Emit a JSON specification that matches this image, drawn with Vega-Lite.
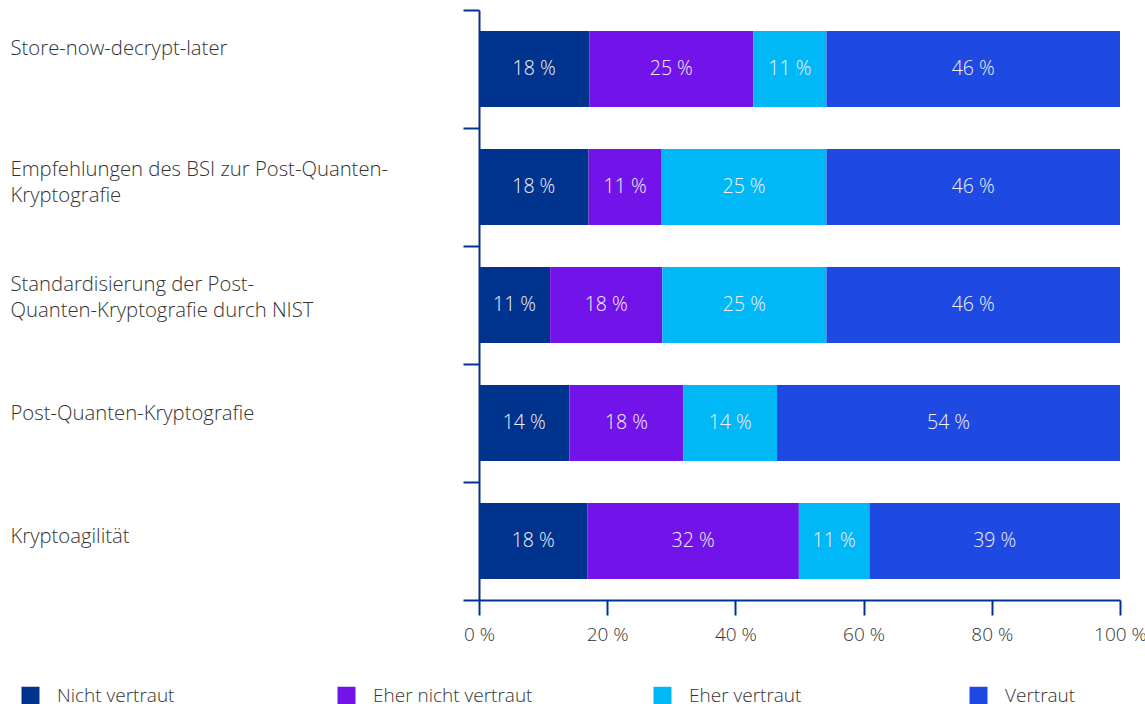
{
  "$schema": "https://vega.github.io/schema/vega-lite/v6.json",
  "width": 641,
  "height": 590,
  "autosize": {"type": "none"},
  "padding": {"left": 479, "top": 10, "right": 25, "bottom": 104},
  "background": "white",
  "config": {
    "view": {"stroke": null},
    "font": "Open Sans",
    "axis": {"labelFont": "Open Sans", "labelFontWeight": 300}
  },
  "data": {
    "values": [
      {"item": "Store-now-decrypt-later", "group": "Nicht vertraut", "rank": 1, "value": 17.2, "label": "18 %"},
      {"item": "Store-now-decrypt-later", "group": "Eher nicht vertraut", "rank": 2, "value": 25.6, "label": "25 %"},
      {"item": "Store-now-decrypt-later", "group": "Eher vertraut", "rank": 3, "value": 11.4, "label": "11 %"},
      {"item": "Store-now-decrypt-later", "group": "Vertraut", "rank": 4, "value": 45.8, "label": "46 %"},
      {"item": "Empfehlungen des BSI zur Post-Quanten-Kryptografie", "group": "Nicht vertraut", "rank": 1, "value": 17.1, "label": "18 %"},
      {"item": "Empfehlungen des BSI zur Post-Quanten-Kryptografie", "group": "Eher nicht vertraut", "rank": 2, "value": 11.4, "label": "11 %"},
      {"item": "Empfehlungen des BSI zur Post-Quanten-Kryptografie", "group": "Eher vertraut", "rank": 3, "value": 25.7, "label": "25 %"},
      {"item": "Empfehlungen des BSI zur Post-Quanten-Kryptografie", "group": "Vertraut", "rank": 4, "value": 45.8, "label": "46 %"},
      {"item": "Standardisierung der Post-Quanten-Kryptografie durch NIST", "group": "Nicht vertraut", "rank": 1, "value": 11.1, "label": "11 %"},
      {"item": "Standardisierung der Post-Quanten-Kryptografie durch NIST", "group": "Eher nicht vertraut", "rank": 2, "value": 17.5, "label": "18 %"},
      {"item": "Standardisierung der Post-Quanten-Kryptografie durch NIST", "group": "Eher vertraut", "rank": 3, "value": 25.6, "label": "25 %"},
      {"item": "Standardisierung der Post-Quanten-Kryptografie durch NIST", "group": "Vertraut", "rank": 4, "value": 45.8, "label": "46 %"},
      {"item": "Post-Quanten-Kryptografie", "group": "Nicht vertraut", "rank": 1, "value": 14.1, "label": "14 %"},
      {"item": "Post-Quanten-Kryptografie", "group": "Eher nicht vertraut", "rank": 2, "value": 17.8, "label": "18 %"},
      {"item": "Post-Quanten-Kryptografie", "group": "Eher vertraut", "rank": 3, "value": 14.6, "label": "14 %"},
      {"item": "Post-Quanten-Kryptografie", "group": "Vertraut", "rank": 4, "value": 53.5, "label": "54 %"},
      {"item": "Kryptoagilität", "group": "Nicht vertraut", "rank": 1, "value": 16.9, "label": "18 %"},
      {"item": "Kryptoagilität", "group": "Eher nicht vertraut", "rank": 2, "value": 33.0, "label": "32 %"},
      {"item": "Kryptoagilität", "group": "Eher vertraut", "rank": 3, "value": 11.0, "label": "11 %"},
      {"item": "Kryptoagilität", "group": "Vertraut", "rank": 4, "value": 39.1, "label": "39 %"}
    ]
  },
  "encoding": {
    "y": {
      "field": "item",
      "type": "nominal",
      "sort": ["Store-now-decrypt-later", "Empfehlungen des BSI zur Post-Quanten-Kryptografie", "Standardisierung der Post-Quanten-Kryptografie durch NIST", "Post-Quanten-Kryptografie", "Kryptoagilität"],
      "scale": {"paddingInner": 0, "paddingOuter": 0},
      "axis": {
        "title": null,
        "domainColor": "#00338D",
        "domainWidth": 2,
        "tickColor": "#00338D",
        "tickWidth": 2,
        "tickSize": 16,
        "tickBand": "extent",
        "labelAlign": "left",
        "labelBaseline": "middle",
        "labelPadding": 453,
        "labelOffset": {
          "condition": [
            {"test": "datum.value == 'Store-now-decrypt-later'", "value": -21},
            {"test": "datum.value == 'Empfehlungen des BSI zur Post-Quanten-Kryptografie'", "value": -18},
            {"test": "datum.value == 'Standardisierung der Post-Quanten-Kryptografie durch NIST'", "value": -21},
            {"test": "datum.value == 'Kryptoagilität'", "value": -5}
          ],
          "value": -10
        },
        "labelFontSize": 20.3,
        "labelFontWeight": 300,
        "labelColor": "#333333",
        "labelLimit": 460,
        "labelLineHeight": 26,
        "labelExpr": "datum.value == 'Empfehlungen des BSI zur Post-Quanten-Kryptografie' ? ['Empfehlungen des BSI zur Post-Quanten-', 'Kryptografie'] : datum.value == 'Standardisierung der Post-Quanten-Kryptografie durch NIST' ? ['Standardisierung der Post-', 'Quanten-Kryptografie durch NIST'] : datum.value"
      }
    }
  },
  "layer": [
    {
      "mark": {"type": "bar", "height": {"band": 0.644}},
      "encoding": {
        "x": {
          "field": "value",
          "type": "quantitative",
          "stack": "zero",
          "scale": {"domain": [0, 100], "nice": false},
          "axis": {
            "title": null,
            "grid": false,
            "values": [0, 20, 40, 60, 80, 100],
            "labelExpr": "datum.value + ' %'",
            "domainColor": "#00338D",
            "domainWidth": 2,
            "tickColor": "#00338D",
            "tickWidth": 2,
            "tickSize": 15,
            "labelPadding": 10,
            "labelFontSize": 19,
            "labelColor": "#333333",
            "labelFlush": false
          }
        },
        "color": {
          "field": "group",
          "type": "nominal",
          "scale": {
            "domain": ["Nicht vertraut", "Eher nicht vertraut", "Eher vertraut", "Vertraut"],
            "range": ["#00338D", "#7213EA", "#00B8F5", "#1E49E2"]
          },
          "legend": {
            "title": null,
            "orient": "none",
            "legendX": -458,
            "legendY": 676,
            "direction": "horizontal",
            "columns": 4,
            "gridAlign": "all",
            "columnPadding": 120,
            "symbolType": "square",
            "symbolSize": 324,
            "symbolStrokeWidth": 0,
            "symbolOpacity": 1,
            "labelOffset": 17,
            "labelFontSize": 19,
            "labelFont": "Open Sans",
            "labelFontWeight": 300,
            "labelColor": "#333333",
            "labelLimit": 300
          }
        },
        "order": {"field": "rank", "type": "quantitative"}
      }
    },
    {
      "mark": {"type": "text", "font": "Open Sans", "fontWeight": 300, "fontSize": 19.5, "color": "#f2f2f7", "baseline": "middle", "align": "center"},
      "encoding": {
        "x": {"field": "value", "type": "quantitative", "stack": "zero", "bandPosition": 0.5},
        "text": {"field": "label", "type": "nominal"},
        "detail": {"field": "group", "type": "nominal"},
        "order": {"field": "rank", "type": "quantitative"}
      }
    }
  ]
}
